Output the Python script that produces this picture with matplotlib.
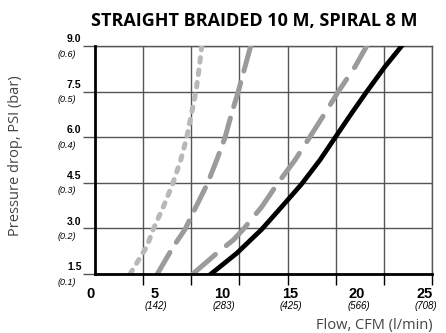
import matplotlib
matplotlib.use("Agg")
import matplotlib.pyplot as plt

# pressure drop levels (PSI) and the bar equivalents
psi = [1.5, 3.0, 4.5, 6.0, 7.5, 9.0]
bar = ["(0.1)", "(0.2)", "(0.3)", "(0.4)", "(0.5)", "(0.6)"]

# flow ticks CFM and l/min
cfm = [5, 10, 15, 20, 25]
lmin = ["(142)", "(283)", "(425)", "(566)", "(708)"]

# curves: flow (CFM) vs pressure drop (PSI)
dotted_x = [2.60, 3.84, 4.32, 5.07, 5.76, 6.36, 6.80, 7.17, 7.49, 7.74, 7.92]
dotted_y = [1.5, 2.40, 2.97, 3.71, 4.46, 5.25, 5.98, 6.79, 7.50, 8.32, 9.0]

dash1_x = [4.62, 5.81, 6.68, 7.49, 8.33, 9.03, 9.64, 10.14, 10.63, 11.13, 11.55]
dash1_y = [1.5, 2.40, 2.97, 3.71, 4.46, 5.25, 5.98, 6.79, 7.50, 8.32, 9.0]

dash2_x = [7.25, 9.03, 10.26, 11.0, 12.37, 13.52, 14.84, 15.90, 17.06, 18.05, 19.29, 20.16]
dash2_y = [1.5, 2.18, 2.62, 2.97, 3.71, 4.46, 5.25, 5.98, 6.79, 7.50, 8.32, 9.0]

solid_x = [8.6, 10.51, 12.37, 13.85, 15.33, 16.69, 17.80, 19.04, 20.16, 21.51, 22.75]
solid_y = [1.5, 2.18, 2.97, 3.71, 4.46, 5.25, 5.98, 6.79, 7.50, 8.32, 9.0]

fig = plt.figure(figsize=(4.46, 3.33), dpi=100)
ax = fig.add_axes([95/446, 1-274/333, 337/446, 228/333])
ax.set_xlim(0, 25)
ax.set_ylim(1.5, 9.0)

gridc = "#555555"
for k in range(1, 8):
  ax.axvline(25*k/7, color=gridc, lw=1.0, zorder=1)
for p in psi:
  ax.axhline(p, color=gridc, lw=1.0, zorder=1)

ax.plot(dotted_x, dotted_y, color="#b8b8b8", lw=3.6, dashes=(0.9, 1.6),
        dash_capstyle="round", zorder=3)
ax.plot(dash1_x, dash1_y, color="#9b9b9b", lw=3.6, dashes=(5.0, 2.4),
        dash_capstyle="round", zorder=3)
ax.plot(dash2_x, dash2_y, color="#9b9b9b", lw=3.6, dashes=(6.0, 2.8),
        dash_capstyle="round", zorder=3)
ax.plot(solid_x, solid_y, color="black", lw=3.4, zorder=4)

for s in ["top", "right"]:
  ax.spines[s].set_color(gridc)
  ax.spines[s].set_linewidth(1.0)
for s in ["left", "bottom"]:
  ax.spines[s].set_color("black")
  ax.spines[s].set_linewidth(2.0)
  ax.spines[s].set_zorder(5)

ax.set_xticks([25*k/7 for k in range(1, 8)])
ax.set_yticks(psi)
ax.set_xticklabels([])
ax.set_yticklabels([])
ax.tick_params(axis="x", direction="out", length=8, width=1.0, color="black")
ax.tick_params(axis="y", direction="out", length=8.6, width=1.0, color=gridc)

lab = "Liberation Sans"
for p, b in zip(psi, bar):
  ax.text(-1.0, p + 0.06, "{:.1f}".format(p), ha="right", va="bottom",
          fontsize=7.5, fontweight="bold", family=lab)
  ax.text(-1.4, p - 0.12, b, ha="right", va="top", fontsize=6.5,
          fontstyle="italic", family=lab)

ax.text(-0.3, 0.84, "0", ha="center", va="center", fontsize=10.5,
        fontweight="bold", family=lab)
for c, l in zip(cfm, lmin):
  ax.text(c - 0.55, 0.84, str(c), ha="center", va="center", fontsize=10.5,
          fontweight="bold", family=lab)
  ax.text(c - 0.45, 0.45, l, ha="center", va="center", fontsize=7,
          fontstyle="italic", family=lab)

fig.text(254/446, 1-21/333, "STRAIGHT BRAIDED 10 M, SPIRAL 8 M", ha="center",
         va="center", fontsize=13, fontweight="bold", family="Open Sans")
fig.text(433/446, 1-326/333, "Flow, CFM (l/min)", ha="right", va="center",
         fontsize=10.5, color="#444444", family="Open Sans")
fig.text(16/446, 1-156/333, "Pressure drop, PSI (bar)", ha="center",
         va="center", rotation=90, fontsize=10.5, color="#444444",
         family="Open Sans")

fig.savefig("out.png", dpi=100)
